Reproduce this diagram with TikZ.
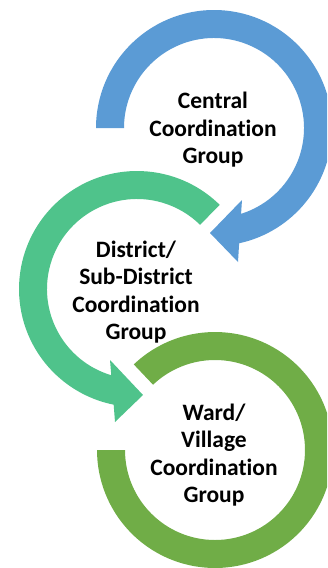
\documentclass[tikz,border=0pt]{standalone}
\usepackage{fontspec}
\setmainfont{Carlito}[Ligatures=NoCommon]
\usetikzlibrary{calc}
\definecolor{ringblue}{HTML}{5B9BD5}
\definecolor{ringteal}{HTML}{4FC38B}
\definecolor{ringgreen}{HTML}{70AD47}
\tikzset{
  label text/.style={align=center, text=black,
    font=\fontsize{23.5}{27.5}\selectfont\bfseries, inner sep=0pt}
}
\begin{document}
\begin{tikzpicture}[x=1pt,y=1pt]
\useasboundingbox (0,0) rectangle (327,-568);
\clip (0,0) rectangle (327,-568);
\coordinate (B) at (214,-128);
\coordinate (T) at (137,-289);
\coordinate (G) at (215,-450);
% green ring
\fill[ringgreen] ($(G)+(133.5:118)$) arc[start angle=133.5,end angle=-180,radius=118]
  -- ($(G)+(180:90)$) arc[start angle=-180,end angle=133.5,radius=90] -- cycle;
% teal arrow
\fill[ringteal] ($(T)+(45.5:118)$) arc[start angle=45.5,end angle=258.6,radius=118]
  -- (115,-422) -- (143,-395) -- (110,-360)
  -- ($(T)+(253.4:90)$) arc[start angle=253.4,end angle=45.5,radius=90] -- cycle;
% blue arrow
\fill[ringblue] ($(B)+(180:118)$) arc[start angle=180,end angle=-77.7,radius=118]
  -- (238,-262) -- (210,-233) -- (242,-200)
  -- ($(B)+(-72.5:90)$) arc[start angle=-72.5,end angle=180,radius=90] -- cycle;
\node[label text] (central) at (213,-130) {Central\\Coordination\\Group};
\node[label text] (district) at (136,-292) {District/\\Sub-District\\Coordination\\Group};
\node[label text] (ward) at (214,-455) {Ward/\\Village\\Coordination\\Group};
\end{tikzpicture}
\end{document}
